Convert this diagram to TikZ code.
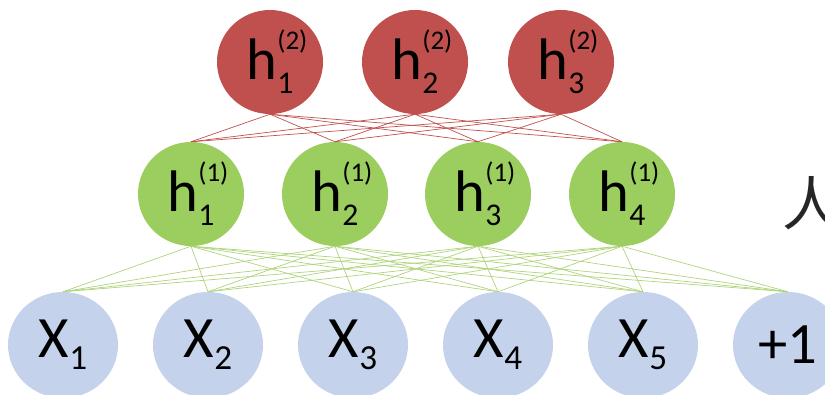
\documentclass[tikz,border=0pt]{standalone}
\usepackage{fontspec}
\setmainfont{Carlito}
\newfontfamily\cjk{Noto Sans CJK SC}
\usetikzlibrary{shapes.geometric}
\definecolor{nodered}{RGB}{192,80,77}
\definecolor{nodegreen}{RGB}{155,205,95}
\definecolor{nodeblue}{RGB}{196,211,235}
\definecolor{linegreen}{RGB}{175,212,125}
\newcommand{\hlab}[2]{h\rlap{\raisebox{.5em}{\fontsize{23}{23}\selectfont(#2)}}\raisebox{-.25em}{\fontsize{27}{27}\selectfont#1}}
\newcommand{\xlab}[1]{X\raisebox{-.2em}{\fontsize{30}{30}\selectfont#1}}

\begin{document}
\begin{tikzpicture}[x=.03cm,y=-.03cm,
  unit/.style={ellipse,inner sep=0pt,minimum width=3.18cm,minimum height=3.12cm,font=\fontsize{50}{50}\selectfont},
  top/.style={unit,fill=nodered},
  mid/.style={unit,fill=nodegreen},
  bot/.style={unit,fill=nodeblue,minimum width=3.3cm,minimum height=3.18cm},
  wire/.style={line width=.6pt}]
\useasboundingbox(0,0)rectangle(825,394);
% second hidden layer
\foreach \i/\x in {1/270,2/415,3/561}\node[top](a\i)at(\x,62){\hlab{\i}{2}};
% first hidden layer
\foreach \i/\x in {1/191,2/335,3/478,4/622}\node[mid](b\i)at(\x,194){\hlab{\i}{1}};
% input layer
\foreach \i/\x in {1/63,2/208,3/353,4/498,5/643}\node[bot](x\i)at(\x,345){\xlab{\i}};
\node[bot](x6)at(788,345){+1};
\node[font=\cjk\fontsize{50}{50}\selectfont,text=black!85](ren)at(812,203){人};
% connections
\foreach \i in {1,2,3}\foreach \j in {1,2,3,4}\draw[wire,nodered](a\i.south)--(b\j.north);
\foreach \j in {1,2,3,4}\foreach \k in {1,...,6}\draw[wire,linegreen](b\j.south)--(x\k.north);
\end{tikzpicture}
\end{document}
